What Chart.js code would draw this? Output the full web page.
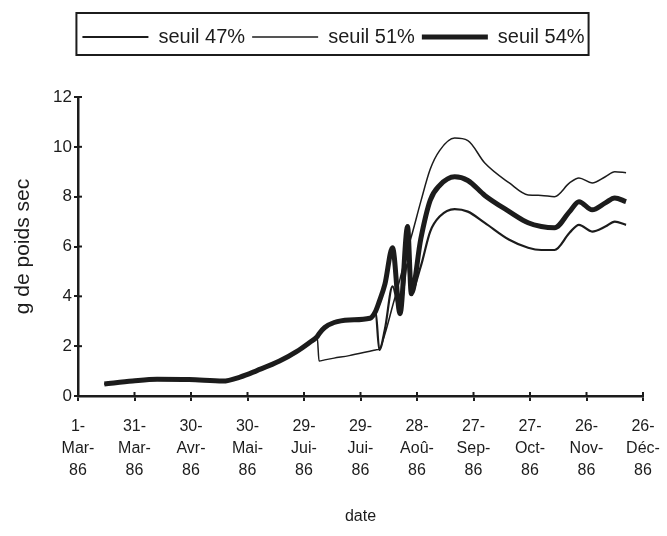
<!DOCTYPE html>
<html>
<head>
<meta charset="utf-8">
<script src="https://cdn.jsdelivr.net/npm/chart.js@4"></script>
<style>
  html,body{margin:0;padding:0;background:#fff;}
  #wrap{width:667px;height:536px;}
</style>
</head>
<body>
<div id="wrap"><canvas id="chart" width="667" height="536"></canvas></div>
<script>
/* biomasse - seuils 47 / 51 / 54 % */
// jours depuis le 1-Mar-86
const days    = [14, 29, 42, 59, 77, 86, 95, 107, 116, 123, 127, 128, 131, 136, 144, 155, 158, 160, 163, 167, 171, 175, 177, 182, 187, 192, 200, 207, 216, 229, 239, 246, 253, 261, 266, 273, 280, 285, 291];
const seuil47 = [0.48, 0.6, 0.67, 0.66, 0.6, 0.76, 1.02, 1.4, 1.78, 2.15, 2.38, 2.5, 2.75, 2.95, 3.05, 3.12, 3.4, 1.85, 2.7, 4.4, 3.4, 5.3, 4.2, 5.2, 6.6, 7.2, 7.5, 7.4, 6.95, 6.27, 5.95, 5.86, 5.86, 6.55, 6.87, 6.6, 6.8, 7.0, 6.87];
const seuil51 = [0.48, 0.6, 0.67, 0.66, 0.6, 0.76, 1.02, 1.4, 1.78, 2.15, 2.38, 1.4, 1.45, 1.52, 1.62, 1.8, 1.85, 1.88, 2.5, 3.6, 4.7, 5.9, 6.4, 7.8, 9.1, 9.85, 10.35, 10.25, 9.35, 8.55, 8.07, 8.05, 8.0, 8.55, 8.75, 8.55, 8.8, 9.0, 8.96];
const seuil54 = [0.48, 0.6, 0.67, 0.66, 0.6, 0.76, 1.02, 1.4, 1.78, 2.15, 2.38, 2.5, 2.75, 2.95, 3.05, 3.12, 3.4, 3.8, 4.5, 5.95, 3.3, 6.8, 4.1, 6.3, 7.85, 8.45, 8.8, 8.65, 8.05, 7.4, 6.95, 6.8, 6.75, 7.4, 7.8, 7.47, 7.75, 7.95, 7.8];
const xTickLabels = [
  ['1-','Mar-','86'], ['31-','Mar-','86'], ['30-','Avr-','86'], ['30-','Mai-','86'],
  ['29-','Jui-','86'], ['29-','Jui-','86'], ['28-','Aoû-','86'], ['27-','Sep-','86'],
  ['27-','Oct-','86'], ['26-','Nov-','86'], ['26-','Déc-','86']
];

const INK = '#1c1c1c';
const FONT = "'Liberation Sans', Arial, sans-serif";

function pts(vals){ return days.map((d,i)=>({x:d, y:vals[i]})); }

// boite autour de la legende + petits traits vers l'interieur
const legendBox = {
  id:'legendBox',
  beforeInit(chart){
    const fit = chart.legend.fit;
    chart.legend.fit = function(){ fit.bind(chart.legend)(); this.height = 77; };
  },
  afterLayout(chart){
    // legende un peu decalee vers la droite, comme dans l'original
    chart.legend.left += 12; chart.legend.right += 12;
  },
  afterDraw(chart){
    const hb = chart.legend.legendHitBoxes;
    if(!hb || !hb.length) return;
    const l = Math.min(...hb.map(h=>h.left)) - 6;
    const r = Math.max(...hb.map(h=>h.left+h.width)) + 4;
    const ctx = chart.ctx;
    ctx.save();
    ctx.strokeStyle = INK; ctx.lineWidth = 2;
    ctx.strokeRect(l, 13, r-l, 42);
    // traits interieurs des graduations
    const xs = chart.scales.x, ys = chart.scales.y;
    ctx.lineWidth = 2;
    xs.ticks.forEach(t=>{
      const px = xs.getPixelForValue(t.value);
      ctx.beginPath(); ctx.moveTo(px, ys.bottom); ctx.lineTo(px, ys.bottom-4); ctx.stroke();
    });
    ys.ticks.forEach(t=>{
      const py = ys.getPixelForValue(t.value);
      ctx.beginPath(); ctx.moveTo(xs.left, py); ctx.lineTo(xs.left+4, py); ctx.stroke();
    });
    ctx.restore();
  }
};

const ds = (label, vals, w) => ({
  label, data: pts(vals), borderColor: INK, backgroundColor: INK,
  borderWidth: w, pointRadius: 0, cubicInterpolationMode: 'monotone', fill: false
});

new Chart(document.getElementById('chart'), {
  type: 'line',
  data: {
    datasets: [
      ds('seuil 47%', seuil47, 2.2),
      ds('seuil 51%', seuil51, 1.5),
      ds('seuil 54%', seuil54, 5)
    ]
  },
  options: {
    responsive: false,
    animation: false,
    layout: { padding: { top: 20, right: 24, left: 0, bottom: 0 } },
    plugins: {
      legend: {
        position: 'top',
        labels: {
          usePointStyle: true, pointStyle: 'line', pointStyleWidth: 66,
          padding: 7, color: INK, font: { family: FONT, size: 20 }
        }
      },
      tooltip: { enabled: false }
    },
    scales: {
      x: {
        type: 'linear', min: 0, max: 300,
        afterFit: s => { s.height = 140; s.paddingLeft = 0; s.paddingRight = 0; },
        ticks: {
          stepSize: 30, autoSkip: false, maxRotation: 0, padding: 14,
          color: INK, font: { family: FONT, size: 16, lineHeight: 1.4 },
          callback: (v) => xTickLabels[Math.round(v/30)]
        },
        grid: { drawOnChartArea: false, tickLength: 5, color: INK, lineWidth: 2 },
        border: { color: INK, width: 2.5 },
        title: { display: true, text: 'date', color: INK, font: { family: FONT, size: 16 }, padding: { top: 0, bottom: 10 } }
      },
      y: {
        min: 0, max: 12,
        afterFit: s => { s.width = 78; },
        ticks: { stepSize: 2, padding: 2, color: INK, font: { family: FONT, size: 17 } },
        grid: { drawOnChartArea: false, tickLength: 4, color: INK, lineWidth: 2 },
        border: { color: INK, width: 2.5 },
        title: { display: true, text: 'g de poids sec', color: INK, font: { family: FONT, size: 21 }, padding: { top: 11, bottom: 0 } }
      }
    }
  },
  plugins: [legendBox]
});
</script>
</body>
</html>
